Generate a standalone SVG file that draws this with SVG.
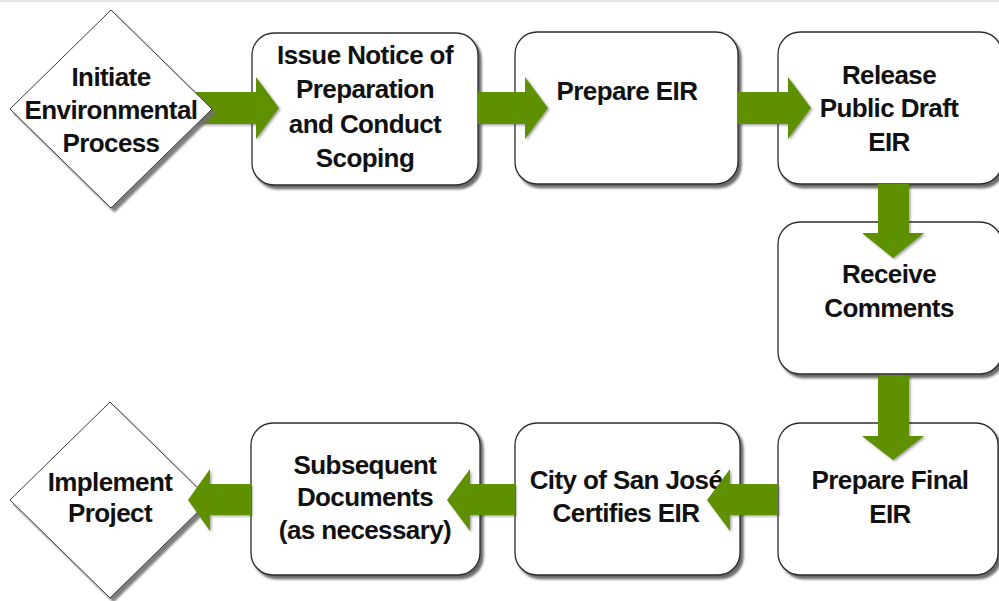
<svg xmlns="http://www.w3.org/2000/svg" width="999" height="601" viewBox="0 0 999 601">
<defs>
<filter id="shadow" x="-10%" y="-10%" width="130%" height="130%">
<feDropShadow dx="3" dy="3.5" stdDeviation="1.2" flood-color="#3a3a3a" flood-opacity="0.75"/>
</filter>
<filter id="dshadow" x="-10%" y="-10%" width="130%" height="130%">
<feDropShadow dx="3.5" dy="4" stdDeviation="1" flood-color="#707070" flood-opacity="0.9"/>
</filter>
<filter id="ashadow" x="-10%" y="-10%" width="130%" height="130%">
<feDropShadow dx="1.5" dy="1.5" stdDeviation="1" flood-color="#333" flood-opacity="0.45"/>
</filter>
</defs>
<style>
.box{fill:#fff;stroke:#2b2b2b;stroke-width:1.3;filter:url(#shadow)}
.dia{fill:#fff;stroke:#3a3a3a;stroke-width:1;filter:url(#dshadow)}
.arrow{fill:#5e9000;filter:url(#ashadow)}
text{font-family:"Liberation Sans",Arial,sans-serif;font-weight:bold;font-size:26px;letter-spacing:-0.6px;fill:#111;text-anchor:middle}
</style>
<rect x="0" y="0" width="999" height="601" fill="#fff"/>
<line x1="0" y1="1" x2="999" y2="1" stroke="#c8c8c8" stroke-width="1"/>

<g id="node-issue">
<rect class="box" x="252" y="33" width="226" height="152" rx="22"/>
<text x="365" y="64">Issue Notice of</text>
<text x="365" y="98">Preparation</text>
<text x="365" y="133">and Conduct</text>
<text x="365" y="167">Scoping</text>
</g>
<g id="node-prepare">
<rect class="box" x="515" y="32" width="223" height="152" rx="22"/>
<text x="627" y="100">Prepare EIR</text>
</g>
<g id="node-release">
<rect class="box" x="778" y="32" width="224" height="152" rx="22"/>
<text x="889" y="84">Release</text>
<text x="889" y="117">Public Draft</text>
<text x="889" y="151">EIR</text>
</g>
<g id="node-receive">
<rect class="box" x="778" y="222" width="224" height="152" rx="22"/>
<text x="889" y="283">Receive</text>
<text x="889" y="317">Comments</text>
</g>
<g id="node-final">
<rect class="box" x="778" y="423" width="220" height="152" rx="22"/>
<text x="890" y="489">Prepare Final</text>
<text x="890" y="523">EIR</text>
</g>
<g id="node-certify">
<rect class="box" x="515" y="423" width="225" height="152" rx="22"/>
<text x="626" y="489">City of San José</text>
<text x="626" y="522">Certifies EIR</text>
</g>
<g id="node-subsequent">
<rect class="box" x="251" y="423" width="229" height="152" rx="22"/>
<text x="365" y="474">Subsequent</text>
<text x="365" y="506">Documents</text>
<text x="365" y="539">(as necessary)</text>
</g>
<g id="node-implement">
<polygon class="dia" points="110,402 210,500 110,598 10,500"/>
<text x="110" y="491">Implement</text>
<text x="110" y="522">Project</text>
</g>

<g id="connectors">
<polygon class="arrow" points="190,92 256,92 256,77 279,108 256,139 256,124 190,124"/>
<polygon class="arrow" points="478,92 525,92 525,77 548,108 525,139 525,124 478,124"/>
<polygon class="arrow" points="738,92 788,92 788,77 811,108 788,139 788,124 738,124"/>
<polygon class="arrow" points="878,184 909,184 909,233 924,233 893,258 862,233 878,233"/>
<polygon class="arrow" points="878,375 909,375 909,436 924,436 893,460 862,436 878,436"/>
<polygon class="arrow" points="778,484 730,484 730,469 707,500 730,531 730,515 778,515"/>
<polygon class="arrow" points="515,484 470,484 470,469 447,500 470,531 470,515 515,515"/>
<polygon class="arrow" points="251,484 210,484 210,469 188,500 210,531 210,515 251,515"/>
</g>

<g id="node-initiate">
<polygon class="dia" points="111,10 212,109 111,208 10,109"/>
<text x="111" y="86">Initiate</text>
<text x="111" y="119">Environmental</text>
<text x="111" y="152">Process</text>
</g>
</svg>
